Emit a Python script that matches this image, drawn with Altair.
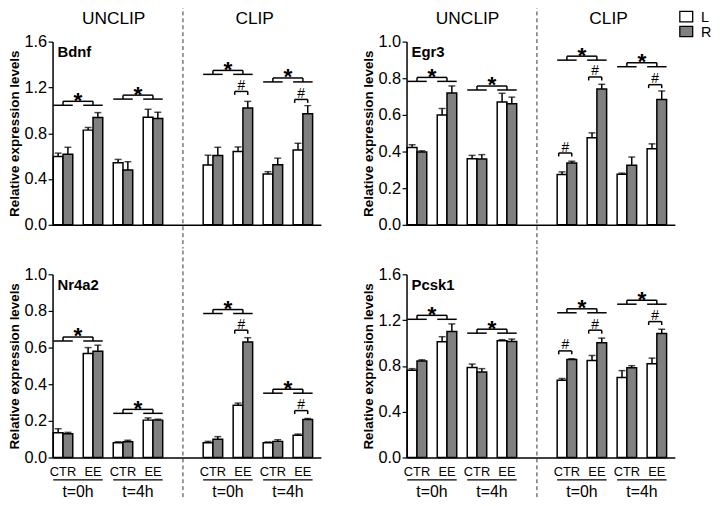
import altair as alt
import pandas as pd

FONT = "Liberation Sans"

SECTIONS = ["UNCLIP", "CLIP"]
CONDITIONS = ["CTR", "EE"]
TIMES = ["t=0h", "t=4h"]
SIDES = ["L", "R"]
SIDE_COLORS = ["#ffffff", "#808080"]
GAP = "gap"

GROUPS = [(c, t) for t in TIMES for c in CONDITIONS]  # CTR 0h, EE 0h, CTR 4h, EE 4h
CATS = [f"{s}|{c}|{t}" for s in SECTIONS for (c, t) in GROUPS]
DOMAIN = CATS[:4] + [GAP] + CATS[4:]

GENES = ["Bdnf", "Egr3", "Nr4a2", "Pcsk1"]
Y_MAX = [1.6, 1.0, 1.0, 1.6]
Y_TICKS = [
    [0.0, 0.4, 0.8, 1.2, 1.6],
    [0.0, 0.2, 0.4, 0.6, 0.8, 1.0],
    [0.0, 0.2, 0.4, 0.6, 0.8, 1.0],
    [0.0, 0.4, 0.8, 1.2, 1.6],
]

# order: UNCLIP CTR0, EE0, CTR4, EE4, CLIP CTR0, EE0, CTR4, EE4
bdnf_L = [0.597, 0.827, 0.542, 0.940, 0.522, 0.640, 0.444, 0.654]
bdnf_L_err = [0.029, 0.023, 0.029, 0.069, 0.086, 0.040, 0.020, 0.058]
bdnf_R = [0.617, 0.937, 0.479, 0.928, 0.605, 1.020, 0.525, 0.971]
bdnf_R_err = [0.060, 0.043, 0.072, 0.055, 0.072, 0.058, 0.057, 0.070]

egr3_L = [0.422, 0.599, 0.361, 0.671, 0.274, 0.475, 0.276, 0.415]
egr3_L_err = [0.015, 0.036, 0.018, 0.047, 0.015, 0.027, 0.006, 0.027]
egr3_R = [0.397, 0.720, 0.359, 0.661, 0.338, 0.742, 0.325, 0.684]
egr3_R_err = [0.007, 0.038, 0.024, 0.036, 0.009, 0.025, 0.045, 0.047]

nr4a2_L = [0.135, 0.568, 0.081, 0.204, 0.081, 0.285, 0.081, 0.121]
nr4a2_L_err = [0.022, 0.032, 0.005, 0.012, 0.007, 0.012, 0.004, 0.007]
nr4a2_R = [0.130, 0.580, 0.086, 0.204, 0.099, 0.631, 0.088, 0.207]
nr4a2_R_err = [0.007, 0.033, 0.008, 0.005, 0.015, 0.023, 0.009, 0.006]

pcsk1_L = [0.761, 1.011, 0.787, 1.020, 0.675, 0.848, 0.698, 0.819]
pcsk1_L_err = [0.015, 0.044, 0.029, 0.009, 0.015, 0.043, 0.061, 0.049]
pcsk1_R = [0.842, 1.101, 0.747, 1.014, 0.856, 1.003, 0.784, 1.083]
pcsk1_R_err = [0.011, 0.066, 0.029, 0.020, 0.006, 0.040, 0.018, 0.038]

VALUES_L = [bdnf_L, egr3_L, nr4a2_L, pcsk1_L]
ERR_L = [bdnf_L_err, egr3_L_err, nr4a2_L_err, pcsk1_L_err]
VALUES_R = [bdnf_R, egr3_R, nr4a2_R, pcsk1_R]
ERR_R = [bdnf_R_err, egr3_R_err, nr4a2_R_err, pcsk1_R_err]

# "*" brackets (CTR vs EE), order: UNCLIP 0h, UNCLIP 4h, CLIP 0h, CLIP 4h
STAR_GROUPS = [("UNCLIP", "t=0h"), ("UNCLIP", "t=4h"), ("CLIP", "t=0h"), ("CLIP", "t=4h")]
STAR_LEVELS = [
    [1.044, 1.098, 1.314, 1.248],
    [0.783, 0.736, 0.899, 0.863],
    [0.636, 0.241, 0.786, 0.351],
    [1.207, 1.086, 1.264, 1.339],
]

# "#" brackets (L vs R)
HASH = [
    [("CLIP|EE|t=0h", 1.165), ("CLIP|EE|t=4h", 1.095)],
    [("CLIP|CTR|t=0h", 0.392), ("CLIP|EE|t=0h", 0.807), ("CLIP|EE|t=4h", 0.765)],
    [("CLIP|EE|t=0h", 0.695), ("CLIP|EE|t=4h", 0.256)],
    [("CLIP|CTR|t=0h", 0.931), ("CLIP|EE|t=0h", 1.112), ("CLIP|EE|t=4h", 1.187)],
]

W, H = 271, 185

xscale = alt.Scale(domain=DOMAIN, paddingInner=0.35, paddingOuter=0.15, align=0.08)
XAXIS = alt.Axis(labels=False, ticks=False, title=None, domain=True,
                 domainColor="black", domainWidth=1.5, grid=False)
FILL_SCALE = alt.Scale(domain=SIDES, range=SIDE_COLORS)


def X(field, bp=None):
    kw = dict(scale=xscale, axis=XAXIS, title=None)
    if bp is not None:
        kw["bandPosition"] = bp
    return alt.X(f"{field}:N", **kw)


def X2(field, bp):
    return alt.X2(field, bandPosition=bp)


def panel(gi, top, show_legend):
    gene = GENES[gi]
    yscale = alt.Scale(domain=[0, Y_MAX[gi]], nice=False)
    yaxis = alt.Axis(values=Y_TICKS[gi], format=".1f", title="Relative expression levels",
                     titleFont=FONT, titleFontSize=13.5, titleFontWeight="bold", titleColor="black",
                     titlePadding=2, labelFont=FONT, labelFontSize=16.5, labelColor="black",
                     labelPadding=1.5, tickSize=4.5, tickColor="black", tickWidth=1.2,
                     domainColor="black", domainWidth=1.5, grid=False)

    def Y(field):
        return alt.Y(f"{field}:Q", scale=yscale, axis=yaxis, title="Relative expression levels")

    rows = []
    for i, cat in enumerate(CATS):
        rows.append(dict(cat=cat, side="L", value=VALUES_L[gi][i], upper=VALUES_L[gi][i] + ERR_L[gi][i]))
        rows.append(dict(cat=cat, side="R", value=VALUES_R[gi][i], upper=VALUES_R[gi][i] + ERR_R[gi][i]))
    bars_df = pd.DataFrame(rows)

    xoff = alt.XOffset("side:N", scale=alt.Scale(domain=SIDES, paddingInner=0, paddingOuter=0))

    bars = alt.Chart(bars_df).mark_bar(stroke="black", strokeWidth=1.5).encode(
        x=X("cat"),
        xOffset=xoff,
        y=Y("value"),
        fill=alt.Fill("side:N", scale=FILL_SCALE, legend=None),
    )
    err = alt.Chart(bars_df).mark_rule(color="black", strokeWidth=1.5).encode(
        x=X("cat"), xOffset=xoff, y=Y("value"), y2="upper",
    )
    caps = alt.Chart(bars_df).mark_tick(orient="horizontal", size=7, thickness=1.5, color="black").encode(
        x=X("cat"), xOffset=xoff, y=Y("upper"),
    )

    # star brackets
    srows, sends = [], []
    for (sec, t), lev in zip(STAR_GROUPS, STAR_LEVELS[gi]):
        cc, ce = f"{sec}|CTR|{t}", f"{sec}|EE|{t}"
        srows.append(dict(cat_ctr=cc, cat_ee=ce, lev=lev, star="*"))
        sends.append(dict(cat=cc, lev=lev))
        sends.append(dict(cat=ce, lev=lev))
    sdf, edf = pd.DataFrame(srows), pd.DataFrame(sends)
    s_low = alt.Chart(edf).mark_rule(color="black", strokeWidth=1.5).encode(
        x=X("cat", 0), x2=X2("cat", 1), y=Y("lev"))
    s_vert = alt.Chart(edf).mark_rule(color="black", strokeWidth=1.5, y2Offset=-4).encode(
        x=X("cat", 0.5), y=Y("lev"), y2="lev")
    s_top = alt.Chart(sdf).mark_rule(color="black", strokeWidth=1.5, yOffset=-4).encode(
        x=X("cat_ctr", 0.5), x2=X2("cat_ee", 0.5), y=Y("lev"))
    s_txt = alt.Chart(sdf).mark_text(font=FONT, fontSize=23, fontWeight="bold", baseline="alphabetic",
                                     dx=5.3, dy=2.5, color="black").encode(
        x=X("cat_ctr", 1), y=Y("lev"), text="star:N")

    hdf = pd.DataFrame([dict(cat=c, lev=l, mark="#") for c, l in HASH[gi]])
    h_top = alt.Chart(hdf).mark_rule(color="black", strokeWidth=1.5).encode(
        x=X("cat", 0.08), x2=X2("cat", 0.75), y=Y("lev"))
    h_l = alt.Chart(hdf).mark_rule(color="black", strokeWidth=1.5, y2Offset=3.5).encode(
        x=X("cat", 0.08), y=Y("lev"), y2="lev")
    h_r = alt.Chart(hdf).mark_rule(color="black", strokeWidth=1.5, y2Offset=3.5).encode(
        x=X("cat", 0.75), y=Y("lev"), y2="lev")
    h_txt = alt.Chart(hdf).mark_text(font=FONT, fontSize=14, baseline="alphabetic", dy=-1.5,
                                     color="black").encode(
        x=X("cat", 0.415), y=Y("lev"), text="mark:N")

    dash_top, dash_bot = (-37.5, H + 24) if top else (-24, H + 40)
    dash = alt.Chart(pd.DataFrame({"cat": [GAP]})).mark_rule(
        color="#333333", strokeWidth=1, strokeDash=[4, 3]).encode(
        x=X("cat"), y=alt.value(dash_top), y2=alt.value(dash_bot))

    glabel = alt.Chart(pd.DataFrame({"g": [gene]})).mark_text(
        font=FONT, fontSize=15, fontWeight="bold", align="left", baseline="middle", color="black").encode(
        x=alt.value(5), y=alt.value(11), text="g:N")

    layers = [bars, err, caps, s_low, s_vert, s_top, s_txt, h_top, h_l, h_r, h_txt, dash, glabel]

    if top:
        for sec, anchor, dx in [("UNCLIP", "UNCLIP|EE|t=0h", 11), ("CLIP", "CLIP|EE|t=0h", 2)]:
            layers.append(alt.Chart(pd.DataFrame({"cat": [anchor], "label": [sec]})).mark_text(
                font=FONT, fontSize=17.5, baseline="alphabetic", dx=dx, color="black").encode(
                x=X("cat", 1), y=alt.value(-18.3), text="label:N"))
    else:
        cdf = pd.DataFrame([dict(cat=c, cond=c.split("|")[1]) for c in CATS])
        layers.append(alt.Chart(cdf).mark_text(font=FONT, fontSize=13, baseline="middle",
                                               color="black").encode(
            x=X("cat"), y=alt.value(H + 15), text="cond:N"))
        tdf = pd.DataFrame([dict(cat_ctr=f"{s}|CTR|{t}", cat_ee=f"{s}|EE|{t}", label=t)
                            for s in SECTIONS for t in TIMES])
        layers.append(alt.Chart(tdf).mark_rule(color="black", strokeWidth=1.3).encode(
            x=X("cat_ctr", 0), x2=X2("cat_ee", 1), y=alt.value(H + 22.6)))
        layers.append(alt.Chart(tdf).mark_text(font=FONT, fontSize=16, baseline="alphabetic",
                                               dx=5.3, color="black").encode(
            x=X("cat_ctr", 1), y=alt.value(H + 39.5), text="label:N"))

    if show_legend:
        # legend key (L = white, R = grey), placed right of the panel
        for i, side in enumerate(SIDES):
            ldf = pd.DataFrame({"side": [side]})
            y0 = -30.5 + 15 * i
            layers.append(alt.Chart(ldf).mark_rect(stroke="black", strokeWidth=1.3).encode(
                x=alt.value(W + 5), x2=alt.value(W + 18),
                y=alt.value(y0), y2=alt.value(y0 + 10.5),
                fill=alt.Fill("side:N", scale=FILL_SCALE, legend=None)))
            layers.append(alt.Chart(ldf).mark_text(
                font=FONT, fontSize=14.5, align="left", baseline="alphabetic", color="black").encode(
                x=alt.value(W + 26.5), y=alt.value(y0 + 11), text="side:N"))

    return alt.layer(*layers).properties(width=W, height=H)


row1 = alt.hconcat(panel(0, True, False), panel(1, True, True), spacing=41.5)
row2 = alt.hconcat(panel(2, False, False), panel(3, False, False), spacing=41.5)

chart = alt.vconcat(row1, row2, spacing=0).properties(
    padding={"top": -6.5, "left": 0, "right": 0, "bottom": 0}).configure(
    font=FONT).configure_view(stroke=None)

chart.save("out.html", embed_options={"renderer": "svg", "actions": False})
